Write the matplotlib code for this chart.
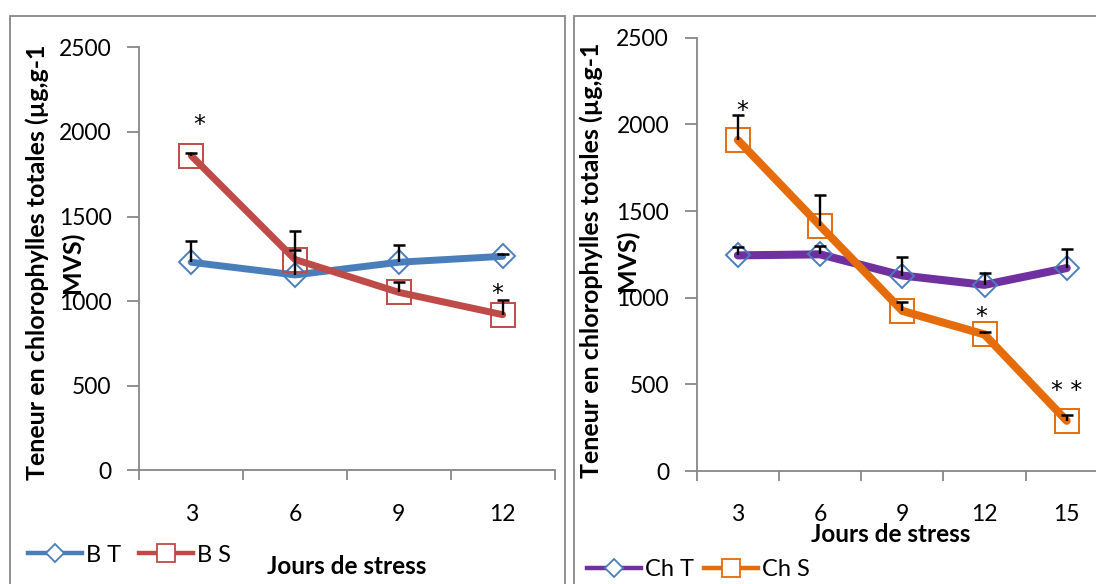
import matplotlib
matplotlib.use("Agg")
import matplotlib.pyplot as plt
import numpy as np
from matplotlib.patches import Rectangle
from matplotlib.lines import Line2D

plt.rcParams['font.family'] = ['Lato', 'DejaVu Sans']

# ---- data: left panel (B) ----
days_B = ["3", "6", "9", "12"]
BT = [1230, 1155, 1230, 1265]
BT_err_top = [1353, 1300, 1331, 1280]
BS = [1860, 1246, 1052, 920]
BS_err_top = [1873, 1415, 1114, 1008]
stars_B = [(0, "*", 2076, 0.078), (3, "*", 1080, -0.057)]  # (index, text, y, x-offset)

# ---- data: right panel (Ch) ----
days_Ch = ["3", "6", "9", "12", "15"]
ChT = [1244, 1250, 1128, 1074, 1171]
ChT_err_top = [1295, 1299, 1235, 1143, 1278]
ChS = [1909, 1415, 924, 788, 290]
ChS_err_top = [2051, 1594, 973, 805, 322]
stars_Ch = [(0, "*", 2111, 0.058), (3, "*", 923, -0.034), (4, "* *", 497, 0.0)]

ylabel1 = "Teneur en chlorophylles totales (µg,g-1"
ylabel2 = "MVS)"
xlabel = "Jours de stress"

BLUE = "#4A7EBB"
RED = "#BE4B48"
PURPLE = "#7030A0"
ORANGE = "#E46C0A"
GRAY = "#878787"

fig = plt.figure(figsize=(10.96, 5.84), dpi=100)

W, H = 1096, 584
def fx(px): return px / W
def fy(py): return 1 - py / H

ax1 = fig.add_axes([fx(139.3), fy(470.4), fx(554.6) - fx(139.3), fy(47.3) - fy(470.4)])
ax2 = fig.add_axes([fx(696.8), fy(471.1), fx(1107.8) - fx(696.8), fy(37.6) - fy(471.1)])


def draw(ax, days, T, Terr, S, Serr, cT, cS, stars, lw):
    x = np.arange(1, len(days) + 1)
    ax.plot(x, T, color=cT, lw=lw, marker='D', ms=11.8, mfc='none',
            mec=BLUE, mew=1.4, solid_capstyle='round', zorder=3)
    ax.plot(x, S, color=cS, lw=lw, marker='s', ms=17.5, mfc='none',
            mec=cS, mew=1.4, solid_capstyle='round', zorder=4)
    for vals, tops in ((T, Terr), (S, Serr)):
        ax.vlines(x, vals, tops, colors='black', lw=1.7, zorder=5)
        ax.plot(x, tops, ls='none', marker='_', ms=8, mew=1.8, color='black', zorder=5)
    for i, txt, yv, dx in stars:
        ax.annotate(txt, (x[i] + dx, yv), xytext=(0, -9.5), textcoords='offset points',
                    ha='center', va='baseline', fontsize=17, family='DejaVu Sans', zorder=6)
    n = len(days)
    ax.set_xlim(0.5, n + 0.5)
    ax.set_ylim(0, 2500)
    ax.set_yticks(np.arange(0, 2501, 500))
    ax.set_xticks(np.arange(0.5, n + 1, 1.0))
    ax.set_xticklabels([])
    ax.set_xticks(x, minor=True)
    ax.set_xticklabels(days, minor=True)
    ax.tick_params(axis='x', which='major', length=7, width=1.3, color=GRAY, direction='out')
    ax.tick_params(axis='x', which='minor', length=0, pad=24, labelsize=16.5)
    ax.tick_params(axis='y', length=9, width=1.3, color=GRAY, pad=11, labelsize=16.5)
    for s in ('top', 'right'):
        ax.spines[s].set_visible(False)
    for s in ('left', 'bottom'):
        ax.spines[s].set_color(GRAY)
        ax.spines[s].set_linewidth(1.3)
    ax.patch.set_visible(False)

draw(ax1, days_B, BT, BT_err_top, BS, BS_err_top, BLUE, RED, stars_B, 5.0)
draw(ax2, days_Ch, ChT, ChT_err_top, ChS, ChS_err_top, PURPLE, ORANGE, stars_Ch, 5.8)

# axis titles
fig.text(fx(347), fy(567), xlabel, ha='center', va='center', fontsize=17.5, fontweight='bold')
fig.text(fx(891), fy(534), xlabel, ha='center', va='center', fontsize=17.5, fontweight='bold')
for xa, xb, yc in ((45, 80, 262), (599, 635, 260)):
    fig.text(fx(xa), fy(yc), ylabel1, rotation=90, rotation_mode='anchor',
             ha='center', va='baseline', fontsize=18, fontweight='bold')
    fig.text(fx(xb), fy(yc), ylabel2, rotation=90, rotation_mode='anchor',
             ha='center', va='baseline', fontsize=18, fontweight='bold')

# legends
def handles(cT, cS):
    hT = Line2D([], [], color=cT, lw=3.2, marker='D', ms=9.5, mfc='white', mec=BLUE, mew=1.3)
    hS = Line2D([], [], color=cS, lw=3.2, marker='s', ms=13, mfc='white', mec=cS, mew=1.3)
    return [hT, hS]

ax1.legend(handles=handles(BLUE, RED), labels=["B T", "B S"], loc='center left',
           bbox_to_anchor=(fx(28), fy(555)), bbox_transform=fig.transFigure, ncol=2,
           frameon=False, fontsize=17, handlelength=2.3, handletextpad=0.17,
           columnspacing=0.75, borderpad=0, borderaxespad=0)
ax2.legend(handles=handles(PURPLE, ORANGE), labels=["Ch T", "Ch S"], loc='center left',
           bbox_to_anchor=(fx(586.7), fy(570)), bbox_transform=fig.transFigure, ncol=2,
           frameon=False, fontsize=17, handlelength=2.3, handletextpad=0.17,
           columnspacing=0.42, borderpad=0, borderaxespad=0)

# panel borders
fig.patches.append(Rectangle((fx(9.6), fy(600)), fx(564.8) - fx(9.6), fy(15.6) - fy(600),
                             transform=fig.transFigure, fill=False, ec=GRAY, lw=1.3))
fig.patches.append(Rectangle((fx(573.7), fy(600)), fx(1120) - fx(573.7), fy(15.6) - fy(600),
                             transform=fig.transFigure, fill=False, ec=GRAY, lw=1.3))

fig.savefig("out.png", dpi=100)
